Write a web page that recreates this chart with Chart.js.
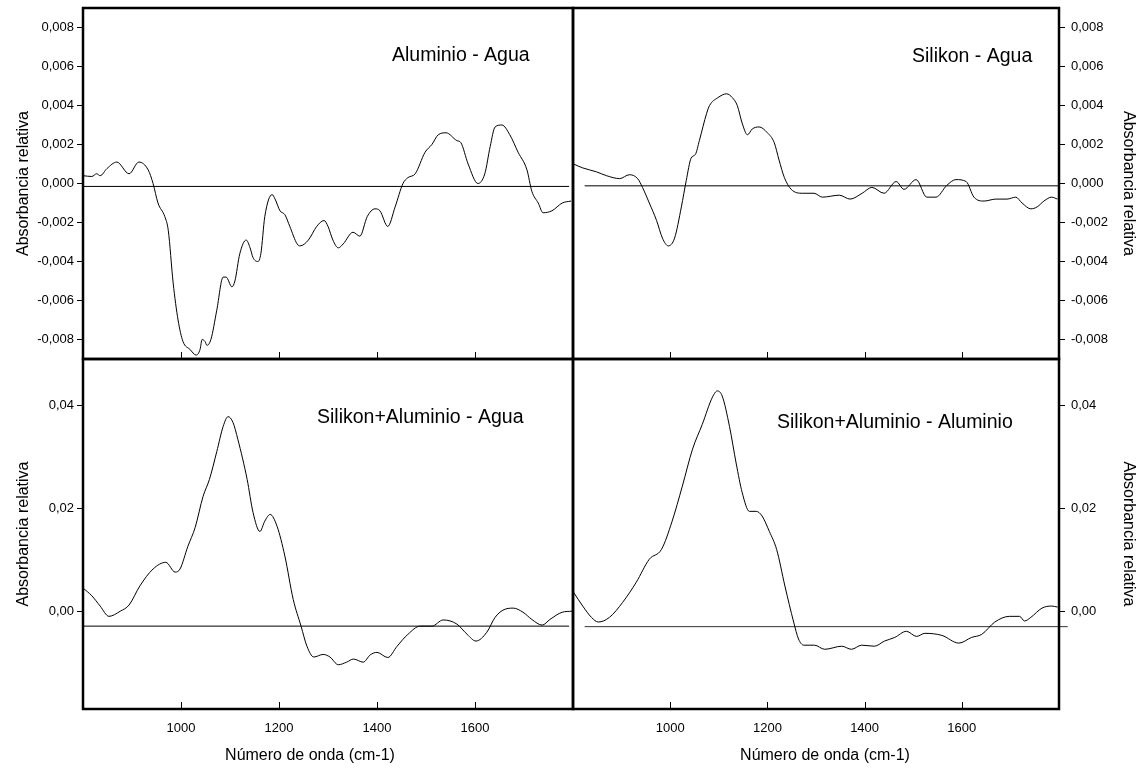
<!DOCTYPE html>
<html>
<head>
<meta charset="utf-8">
<script src="https://cdn.jsdelivr.net/npm/chart.js@4.4.1/dist/chart.umd.min.js"></script>
<style>
  html, body { margin: 0; padding: 0; background: #fff; }
  #wrap { position: relative; width: 1142px; height: 769px; }
  #wrap canvas { position: absolute; left: 0; top: 0; }
</style>
</head>
<body>
<div id="wrap">
  <canvas id="c1" width="1142" height="769"></canvas>
  <canvas id="c2" width="1142" height="769"></canvas>
  <canvas id="c3" width="1142" height="769"></canvas>
  <canvas id="c4" width="1142" height="769"></canvas>
</div>
<script>
// ticks
const xTickValues = [1000, 1200, 1400, 1600];
const yTicksTop = [-0.008, -0.006, -0.004, -0.002, 0, 0.002, 0.004, 0.006, 0.008];
const yTicksBottom = [0, 0.02, 0.04];

// rótulos
const panelTitles = ['Aluminio - Agua', 'Silikon - Agua', 'Silikon+Aluminio - Agua', 'Silikon+Aluminio - Aluminio'];
const yTitle = 'Absorbancia relativa';
const xTitle = 'Número de onda (cm-1)';

// Aluminio - Agua
const alAguaWn = [800, 818, 828, 835, 849, 869, 894, 914, 933, 943, 953, 967, 974, 984, 994, 1004, 1018, 1031, 1039, 1043,
  1049, 1053, 1061, 1073, 1086, 1092, 1104, 1110, 1120, 1133, 1141, 1147, 1157, 1163, 1171, 1186, 1192, 1202, 1212, 1222,
  1237, 1243, 1260, 1277, 1292, 1300, 1310, 1321, 1331, 1351, 1365, 1380, 1396, 1406, 1422, 1437, 1453, 1463, 1478, 1498,
  1512, 1525, 1541, 1563, 1571, 1586, 1606, 1620, 1631, 1641, 1655, 1671, 1688, 1706, 1716, 1729, 1739, 1757, 1778, 1796];
const alAguaAbs = [0.0004, 0.00036, 0.0005, 0.0004, 0.00077, 0.0011, 0.0005, 0.0011, 0.0007, 0, -0.001, -0.0017, -0.0024, -0.0051, -0.007, -0.0081, -0.0085, -0.0088, -0.0085, -0.008,
  -0.0081, -0.0083, -0.008, -0.0065, -0.0048, -0.0048, -0.0053, -0.005, -0.0036, -0.0029, -0.0033, -0.0038, -0.004, -0.0036, -0.0017, -0.00057, -0.0008, -0.0014, -0.0016, -0.0022,
  -0.0031, -0.0032, -0.0029, -0.0022, -0.0019, -0.0022, -0.0029, -0.0033, -0.0031, -0.0025, -0.0027, -0.0017, -0.0013, -0.0014, -0.0022, -0.0012, 0, 0.0003, 0.0005, 0.0016,
  0.002, 0.0025, 0.0026, 0.0022, 0.0021, 0.001, 0, 0.0005, 0.0019, 0.0029, 0.003, 0.0025, 0.0016, 0.0007, -0.0004, -0.001, -0.0015, -0.0014, -0.001, -0.0009];

// Silikon - Agua
const siAguaWn = [801, 820, 848, 869, 896, 916, 933, 943, 957, 972, 984, 996, 1009, 1023, 1033, 1043, 1052, 1060, 1075, 1081,
  1098, 1116, 1128, 1138, 1148, 1159, 1169, 1183, 1200, 1214, 1224, 1235, 1249, 1272, 1296, 1313, 1348, 1370, 1395, 1415,
  1440, 1465, 1481, 1506, 1528, 1547, 1569, 1588, 1609, 1625, 1646, 1670, 1693, 1711, 1724, 1742, 1755, 1769, 1785, 1797];
const siAguaAbs = [0.001, 0.0008, 0.0006, 0.0004, 0.00025, 0.00045, 0.00025, -0.0002, -0.001, -0.0019, -0.0028, -0.0032, -0.0028, -0.0012, 0.00015, 0.0013, 0.0015, 0.0022, 0.0036, 0.004,
  0.0044, 0.0046, 0.0044, 0.004, 0.0031, 0.0025, 0.0028, 0.0029, 0.0026, 0.0021, 0.0012, 0.0003, -0.0003, -0.0005, -0.0005, -0.0007, -0.0006, -0.0008, -0.0005, -0.0002,
  -0.0005, 0.0001, -0.0003, 0.0002, -0.0007, -0.0007, -0.0001, 0.0002, 0.0001, -0.0007, -0.0009, -0.0008, -0.0008, -0.0007, -0.001, -0.0013, -0.0012, -0.0009, -0.0007, -0.0008];

// Silikon+Aluminio - Agua
const siAlAguaWn = [800, 818, 835, 853, 876, 894, 916, 943, 969, 988, 998, 1014, 1029, 1045, 1058, 1073, 1086, 1096, 1106, 1116,
  1135, 1147, 1161, 1171, 1182, 1196, 1212, 1229, 1245, 1257, 1271, 1290, 1304, 1321, 1338, 1352, 1372, 1386, 1400, 1422,
  1441, 1463, 1488, 1512, 1535, 1563, 1584, 1602, 1624, 1641, 1657, 1678, 1698, 1716, 1737, 1753, 1778, 1798];
const siAlAguaAbs = [0.0045, 0.003, 0.001, -0.001, 0, 0.0012, 0.0049, 0.0082, 0.0095, 0.0076, 0.0082, 0.0126, 0.0163, 0.0223, 0.0256, 0.031, 0.0359, 0.0378, 0.0367, 0.0334,
  0.0256, 0.0192, 0.0155, 0.0175, 0.0188, 0.0165, 0.0107, 0.0023, -0.0029, -0.0068, -0.0089, -0.0084, -0.0089, -0.0104, -0.0099, -0.0093, -0.0099, -0.0085, -0.008, -0.009,
  -0.0068, -0.0045, -0.0029, -0.0029, -0.0017, -0.0025, -0.0045, -0.0058, -0.0041, -0.0012, 0.0002, 0.0006, -0.0002, -0.0016, -0.0027, -0.0016, -0.0002, 0];

// Silikon+Aluminio - Aluminio
const siAlAlWn = [801, 820, 838, 852, 875, 902, 930, 957, 982, 1004, 1025, 1046, 1066, 1087, 1097, 1107, 1122, 1136, 1148, 1163,
  1177, 1189, 1204, 1219, 1236, 1254, 1264, 1275, 1297, 1318, 1353, 1373, 1394, 1420, 1441, 1462, 1486, 1507, 1524, 1559,
  1594, 1620, 1641, 1668, 1698, 1719, 1729, 1742, 1765, 1785, 1797];
const siAlAlAbs = [0.0037, 0.001, -0.0012, -0.0021, -0.0012, 0.0017, 0.0056, 0.0101, 0.012, 0.0175, 0.0243, 0.0315, 0.0363, 0.0416, 0.0428, 0.0418, 0.0359, 0.0286, 0.0231, 0.0194,
  0.0194, 0.0185, 0.0155, 0.012, 0.0049, -0.0021, -0.0054, -0.0066, -0.0066, -0.0074, -0.0068, -0.0074, -0.0066, -0.0068, -0.0058, -0.0051, -0.0039, -0.0049, -0.0043, -0.0047,
  -0.0062, -0.0051, -0.0045, -0.0021, -0.001, -0.001, -0.0019, -0.0012, 0.0006, 0.001, 0.0008];

// líneas de base
const baseWnLeft = [800, 1792];
const baseWnRight = [824, 1800];
const baseWnRightLong = [824, 1818];
const alAguaBase = [-0.00015, -0.00015];
const siAguaBase = [-0.00012, -0.00012];
const siAlAguaBase = [-0.0029, -0.0029];
const siAlAlBase = [-0.003, -0.003];

const FONT = "'Liberation Sans', Arial, sans-serif";
Chart.defaults.font.family = FONT;
Chart.defaults.color = '#000';

function toPoints(xs, ys) {
  return xs.map((x, i) => ({ x: x, y: ys[i] }));
}

// marco, ticks internos, rótulo del panel y título x
const panelDecor = {
  id: 'panelDecor',
  afterDraw(chart, args, opts) {
    const { ctx, chartArea: a, scales } = chart;
    ctx.save();
    ctx.strokeStyle = '#000';
    ctx.lineWidth = 1;
    xTickValues.forEach(v => {
      const px = Math.round(scales.x.getPixelForValue(v)) + 0.5;
      ctx.beginPath();
      ctx.moveTo(px, a.bottom);
      ctx.lineTo(px, a.bottom - 7);
      ctx.stroke();
    });
    ctx.lineWidth = 2.5;
    ctx.strokeRect(a.left, a.top, a.right - a.left, a.bottom - a.top);
    ctx.fillStyle = '#000';
    ctx.font = '19.5px ' + FONT;
    ctx.textAlign = 'left';
    ctx.textBaseline = 'alphabetic';
    ctx.fillText(opts.label, a.left + opts.labelX, a.top + opts.labelY);
    if (opts.showXTitle) {
      ctx.font = '16px ' + FONT;
      ctx.textAlign = 'center';
      ctx.textBaseline = 'middle';
      ctx.fillText(xTitle, a.left + opts.xTitleX, 756);
    }
    ctx.restore();
  }
};

function makePanel(id, p) {
  const right = p.side === 'right';
  const bottom = p.row === 'bottom';
  const yTicks = bottom ? yTicksBottom : yTicksTop;
  const digits = bottom ? 2 : 3;
  return new Chart(document.getElementById(id), {
    type: 'line',
    data: {
      datasets: [
        { data: toPoints(p.wn, p.abs), borderColor: '#000', borderWidth: 1, pointRadius: 0, cubicInterpolationMode: 'monotone', fill: false },
        { data: toPoints(p.baseWn, p.base), borderColor: p.baseColor || '#000', borderWidth: 1, pointRadius: 0, fill: false, clip: false }
      ]
    },
    options: {
      responsive: false,
      animation: false,
      events: [],
      layout: { padding: p.padding },
      plugins: {
        legend: { display: false },
        tooltip: { enabled: false },
        panelDecor: { label: p.label, labelX: p.labelX, labelY: p.labelY, showXTitle: bottom, xTitleX: p.xTitleX }
      },
      scales: {
        x: {
          type: 'linear',
          min: 800,
          max: 1800,
          display: bottom,
          afterBuildTicks: s => { s.ticks = xTickValues.map(v => ({ value: v })); },
          afterFit: s => { s.height = bottom ? 60 : 0; s.paddingLeft = 0; s.paddingRight = 0; },
          grid: { display: false, drawTicks: false },
          border: { display: false },
          ticks: { font: { size: 13 }, color: '#000', padding: 12, maxRotation: 0, callback: v => String(v) }
        },
        y: {
          type: 'linear',
          position: right ? 'right' : 'left',
          min: p.yMin,
          max: p.yMax,
          afterBuildTicks: s => { s.ticks = yTicks.map(v => ({ value: v })); },
          afterFit: s => { s.width = 83; s.paddingTop = 0; s.paddingBottom = 0; },
          grid: { drawOnChartArea: false, drawTicks: true, tickLength: 6, color: '#000', lineWidth: 1 },
          border: { display: false },
          ticks: {
            font: { size: 13 }, color: '#000', padding: right ? 6 : 3,
            callback: v => (Math.abs(v) < 1e-12 ? 0 : v).toFixed(digits).replace('.', ',')
          },
          title: { display: true, text: yTitle, font: { size: 16 }, color: '#000', padding: { top: right ? 4 : 14, bottom: 0 } }
        }
      }
    },
    plugins: [panelDecor]
  });
}

makePanel('c1', {
  side: 'left', row: 'top', wn: alAguaWn, abs: alAguaAbs, baseWn: baseWnLeft, base: alAguaBase,
  yMin: -0.009, yMax: 0.009, label: panelTitles[0], labelX: 309, labelY: 53,
  padding: { left: 0, top: 8, right: 569, bottom: 410 }
});
makePanel('c2', {
  side: 'right', row: 'top', wn: siAguaWn, abs: siAguaAbs, baseWn: baseWnRight, base: siAguaBase,
  yMin: -0.009, yMax: 0.009, label: panelTitles[1], labelX: 339, labelY: 54,
  padding: { left: 573, top: 8, right: 0, bottom: 410 }
});
makePanel('c3', {
  side: 'left', row: 'bottom', wn: siAlAguaWn, abs: siAlAguaAbs, baseWn: baseWnLeft, base: siAlAguaBase,
  yMin: -0.019, yMax: 0.049, label: panelTitles[2], labelX: 234, labelY: 64, xTitleX: 227,
  padding: { left: 0, top: 359, right: 569, bottom: 0 }
});
makePanel('c4', {
  side: 'right', row: 'bottom', wn: siAlAlWn, abs: siAlAlAbs, baseWn: baseWnRightLong, base: siAlAlBase, baseColor: '#333',
  yMin: -0.019, yMax: 0.049, label: panelTitles[3], labelX: 204, labelY: 69, xTitleX: 252,
  padding: { left: 573, top: 359, right: 0, bottom: 0 }
});
</script>
</body>
</html>
